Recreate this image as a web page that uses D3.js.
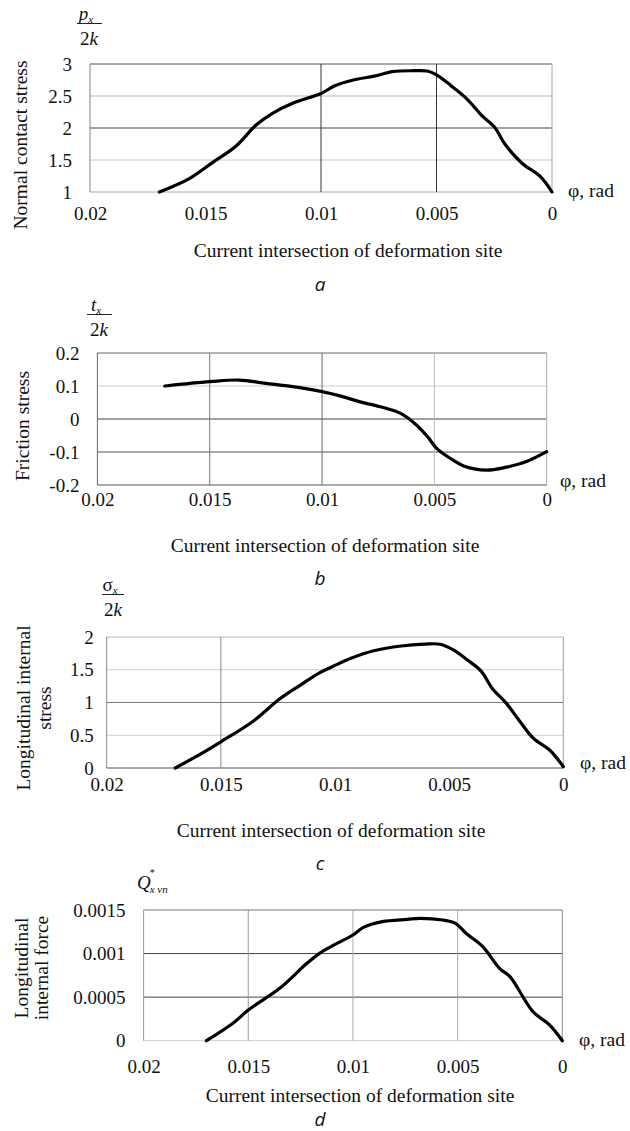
<!DOCTYPE html>
<html><head><meta charset="utf-8">
<script src="https://cdn.jsdelivr.net/npm/d3@7"></script>
<style>
body{margin:0;background:#fff}
svg{display:block}
svg text{font-family:"Liberation Serif","Times New Roman",serif;}
svg text.letter{font-family:"Open Sans","Noto Sans",sans-serif;font-style:italic;}
</style>
</head><body>
<svg id="chart" width="630" height="1131"></svg>
<script>
// ---------- data ----------
const xTickValues = [0.02, 0.015, 0.01, 0.005, 0];
const xTickLabels = ["0.02", "0.015", "0.01", "0.005", "0"];

const yTicksA = [1, 1.5, 2, 2.5, 3];
const yLabelsA = ["1", "1.5", "2", "2.5", "3"];
const yTicksB = [-0.2, -0.1, 0, 0.1, 0.2];
const yLabelsB = ["-0.2", "-0.1", "0", "0.1", "0.2"];
const yTicksC = [0, 0.5, 1, 1.5, 2];
const yLabelsC = ["0", "0.5", "1", "1.5", "2"];
const yTicksD = [0, 0.0005, 0.001, 0.0015];
const yLabelsD = ["0", "0.0005", "0.001", "0.0015"];

// phi (rad), value
const normalContactStress = [
  [0.0170, 1.00], [0.0157, 1.21], [0.0147, 1.46], [0.0137, 1.71], [0.0128, 2.05],
  [0.0121, 2.23], [0.0112, 2.39], [0.0100, 2.54], [0.0094, 2.66], [0.0086, 2.75],
  [0.0077, 2.81], [0.0069, 2.88], [0.0060, 2.895], [0.0054, 2.89], [0.0050, 2.83],
  [0.0044, 2.67], [0.0037, 2.46], [0.0030, 2.18], [0.0025, 2.02], [0.0020, 1.73],
  [0.0013, 1.45], [0.0005, 1.24], [0.0000, 1.00]
];
const frictionStress = [
  [0.0170, 0.100], [0.0150, 0.113], [0.0137, 0.118], [0.0125, 0.108], [0.0113, 0.098],
  [0.0100, 0.083], [0.0092, 0.070], [0.0083, 0.052], [0.0074, 0.037], [0.0065, 0.017],
  [0.0058, -0.018], [0.0053, -0.054], [0.0049, -0.089], [0.0043, -0.119], [0.0036, -0.145],
  [0.0027, -0.155], [0.0018, -0.146], [0.0009, -0.129], [0.0000, -0.099]
];
const longitudinalStress = [
  [0.0170, 0.00], [0.0158, 0.23], [0.0150, 0.40], [0.0136, 0.71], [0.0124, 1.06],
  [0.0115, 1.27], [0.0107, 1.45], [0.0101, 1.55], [0.0093, 1.675], [0.0083, 1.79],
  [0.0071, 1.863], [0.0061, 1.89], [0.0054, 1.89], [0.0048, 1.80], [0.0042, 1.65],
  [0.0036, 1.48], [0.0031, 1.21], [0.0025, 0.99], [0.0019, 0.71], [0.0013, 0.45],
  [0.0006, 0.275], [0.0000, 0.02]
];
const longitudinalForce = [
  [0.0170, 0.0], [0.0157, 0.000207], [0.0150, 0.000352], [0.0135, 0.000601], [0.0122, 0.000888],
  [0.0116, 0.001003], [0.0109, 0.00110], [0.0100, 0.001213], [0.0095, 0.00130], [0.0086, 0.001366],
  [0.0074, 0.001393], [0.0068, 0.001405], [0.0057, 0.001385], [0.0051, 0.001347], [0.0046, 0.001233],
  [0.0038, 0.001079], [0.0030, 0.000831], [0.0025, 0.000735], [0.0014, 0.000333], [0.0006, 0.00018],
  [0.0000, 0.0]
];

// ---------- layout / style ----------
const panels = [
  { data: normalContactStress, yT: yTicksA, yL: yLabelsA, L: 90, R: 552, T: 64, B: 192,
    hCol: ["#aaa", "#c8c8c8", "#444", "#bbb", "#555"], left: "#888", right: "#aaa",
    vVals: [0.01, 0.005], vCol: ["#333", "#333"], yPad: 18, xLabY: 213,
    title: ["Normal contact stress"], titleX: [20], titleY: 145,
    xTitleX: 348, xTitleY: 250, phiX: 568, phiY: 190, letter: "a", letY: 291 },
  { data: frictionStress, yT: yTicksB, yL: yLabelsB, L: 97.4, R: 546.7, T: 353, B: 485,
    hCol: ["#555", "#555", "#444", "#ccc", "#666"], left: "#666", right: "#aaa",
    vVals: [0.015, 0.01, 0.005], vCol: ["#777", "#666", "#bbb"], yPad: 18, xLabY: 499,
    title: ["Friction stress"], titleX: [22], titleY: 426,
    xTitleX: 325, xTitleY: 545, phiX: 560, phiY: 480, letter: "b", letY: 585 },
  { data: longitudinalStress, yT: yTicksC, yL: yLabelsC, L: 106.7, R: 563.3, T: 637, B: 768,
    hCol: ["#555", "#ccc", "#777", "#ccc", "#bbb"], left: "#888", right: "#999",
    vVals: [0.015], vCol: ["#888"], yPad: 13, xLabY: 784,
    title: ["Longitudinal internal", "stress"], titleX: [23, 44], titleY: 708,
    xTitleX: 331, xTitleY: 830, phiX: 580, phiY: 762, letter: "c", letY: 870 },
  { data: longitudinalForce, yT: yTicksD, yL: yLabelsD, L: 143.6, R: 562.3, T: 910, B: 1040.7,
    hCol: ["#ccc", "#444", "#444", "#777"], left: "#999", right: "#888",
    vVals: [0.015, 0.01, 0.005], vCol: ["#999", "#aaa", "#aaa"], yPad: 18, xLabY: 1066,
    title: ["Longitudinal", "internal force"], titleX: [21, 41], titleY: 968,
    xTitleX: 360, xTitleY: 1095, phiX: 579, phiY: 1039, letter: "d", letY: 1126 }
];

const serif = "Liberation Serif";
const svg = d3.select("#chart");

panels.forEach(p => {
  const x = d3.scaleLinear().domain([0.02, 0]).range([p.L, p.R]);
  const y = d3.scaleLinear().domain([p.yT[0], p.yT[p.yT.length - 1]]).range([p.B, p.T]);
  const g = svg.append("g");

  // horizontal grid lines (incl. top and bottom frame)
  g.selectAll(".hg").data(p.yT).join("line")
    .attr("x1", p.L).attr("x2", p.R)
    .attr("y1", d => y(d)).attr("y2", d => y(d))
    .attr("stroke", (d, i) => p.hCol[i]).attr("stroke-width", 1);
  // vertical grid lines
  g.selectAll(".vg").data(p.vVals).join("line")
    .attr("x1", d => x(d)).attr("x2", d => x(d))
    .attr("y1", p.T).attr("y2", p.B)
    .attr("stroke", (d, i) => p.vCol[i]).attr("stroke-width", 1);
  // left / right frame
  g.append("line").attr("x1", p.L).attr("x2", p.L).attr("y1", p.T).attr("y2", p.B)
    .attr("stroke", p.left);
  g.append("line").attr("x1", p.R).attr("x2", p.R).attr("y1", p.T).attr("y2", p.B)
    .attr("stroke", p.right);

  // y axis
  const ya = d3.axisLeft(y).tickValues(p.yT).tickSize(0).tickPadding(p.yPad)
    .tickFormat((d, i) => p.yL[i]);
  const yg = g.append("g").attr("transform", `translate(${p.L},0)`).call(ya);
  yg.attr("font-family", null).attr("font-size", null);
  yg.select(".domain").remove();
  yg.selectAll("text").style("font-family", serif).style("font-size", "19px").attr("fill", "#111");

  // x axis
  const xa = d3.axisBottom(x).tickValues(xTickValues).tickSize(0).tickPadding(0)
    .tickFormat((d, i) => xTickLabels[i]);
  const xg = g.append("g").attr("transform", `translate(0,${p.xLabY})`).call(xa);
  xg.attr("font-family", null).attr("font-size", null);
  xg.select(".domain").remove();
  xg.selectAll("text").style("font-family", serif).style("font-size", "19px").attr("fill", "#111")
    .attr("dy", "0.35em").attr("y", 0);

  // curve
  const line = d3.line().x(d => x(d[0])).y(d => y(d[1])).curve(d3.curveCatmullRom.alpha(0.5));
  g.append("path").attr("d", line(p.data)).attr("fill", "none")
    .attr("stroke", "#000").attr("stroke-width", 3.2).attr("stroke-linejoin", "round")
    .attr("stroke-linecap", "round");

  // y title (rotated)
  p.title.forEach((t, i) => {
    g.append("text").attr("transform", `translate(${p.titleX[i]},${p.titleY}) rotate(-90)`)
      .attr("text-anchor", "middle").attr("dy", "0.35em")
      .style("font-size", "19.5px").attr("fill", "#111").text(t);
  });
  // x title
  g.append("text").attr("x", p.xTitleX).attr("y", p.xTitleY).attr("dy", "0.35em")
    .attr("text-anchor", "middle").style("font-size", "19.5px")
    .attr("fill", "#111").text("Current intersection of deformation site");
  // phi, rad
  g.append("text").attr("x", p.phiX).attr("y", p.phiY).attr("dy", "0.35em")
    .style("font-size", "19.5px").attr("fill", "#111").text("φ, rad");
  // panel letter
  g.append("text").attr("class", "letter").attr("x", 320).attr("y", p.letY).attr("text-anchor", "middle")
    .style("font-size", "19px").attr("fill", "#111").text(p.letter);
});

// ---------- fraction / symbol labels ----------
function fraction(num, sub, cx, lineY, x1, x2, upright) {
  const t = svg.append("text").attr("fill", "#111")
    .attr("text-anchor", "middle").attr("x", cx - 3).attr("y", lineY - 4);
  t.append("tspan").style("font-size", "19px").style("font-style", upright ? "normal" : "italic").text(num);
  t.append("tspan").style("font-size", "11px").style("font-style", "italic").attr("dy", 3).text(sub);
  svg.append("line").attr("x1", x1).attr("x2", x2).attr("y1", lineY).attr("y2", lineY)
    .attr("stroke", "#222").attr("stroke-width", 1);
  const d = svg.append("text").attr("fill", "#111")
    .attr("text-anchor", "middle").attr("x", cx).attr("y", lineY + 21).style("font-size", "19px");
  d.append("tspan").text("2");
  d.append("tspan").style("font-style", "italic").text("k");
}
fraction("p", "x", 89, 23.5, 77, 102, false);
fraction("t", "x", 99, 314.5, 87, 112, false);
fraction("σ", "x", 113, 594.5, 102, 124, true);

const q = svg.append("text").attr("fill", "#111").attr("x", 137).attr("y", 889);
q.append("tspan").style("font-size", "19px").style("font-style", "italic").text("Q");
q.append("tspan").style("font-size", "10px").attr("dy", -13).attr("dx", -1).text("*");
q.append("tspan").style("font-size", "11px").style("font-style", "italic").attr("dy", 17).attr("dx", -5).text("x vn");
</script>
</body></html>
